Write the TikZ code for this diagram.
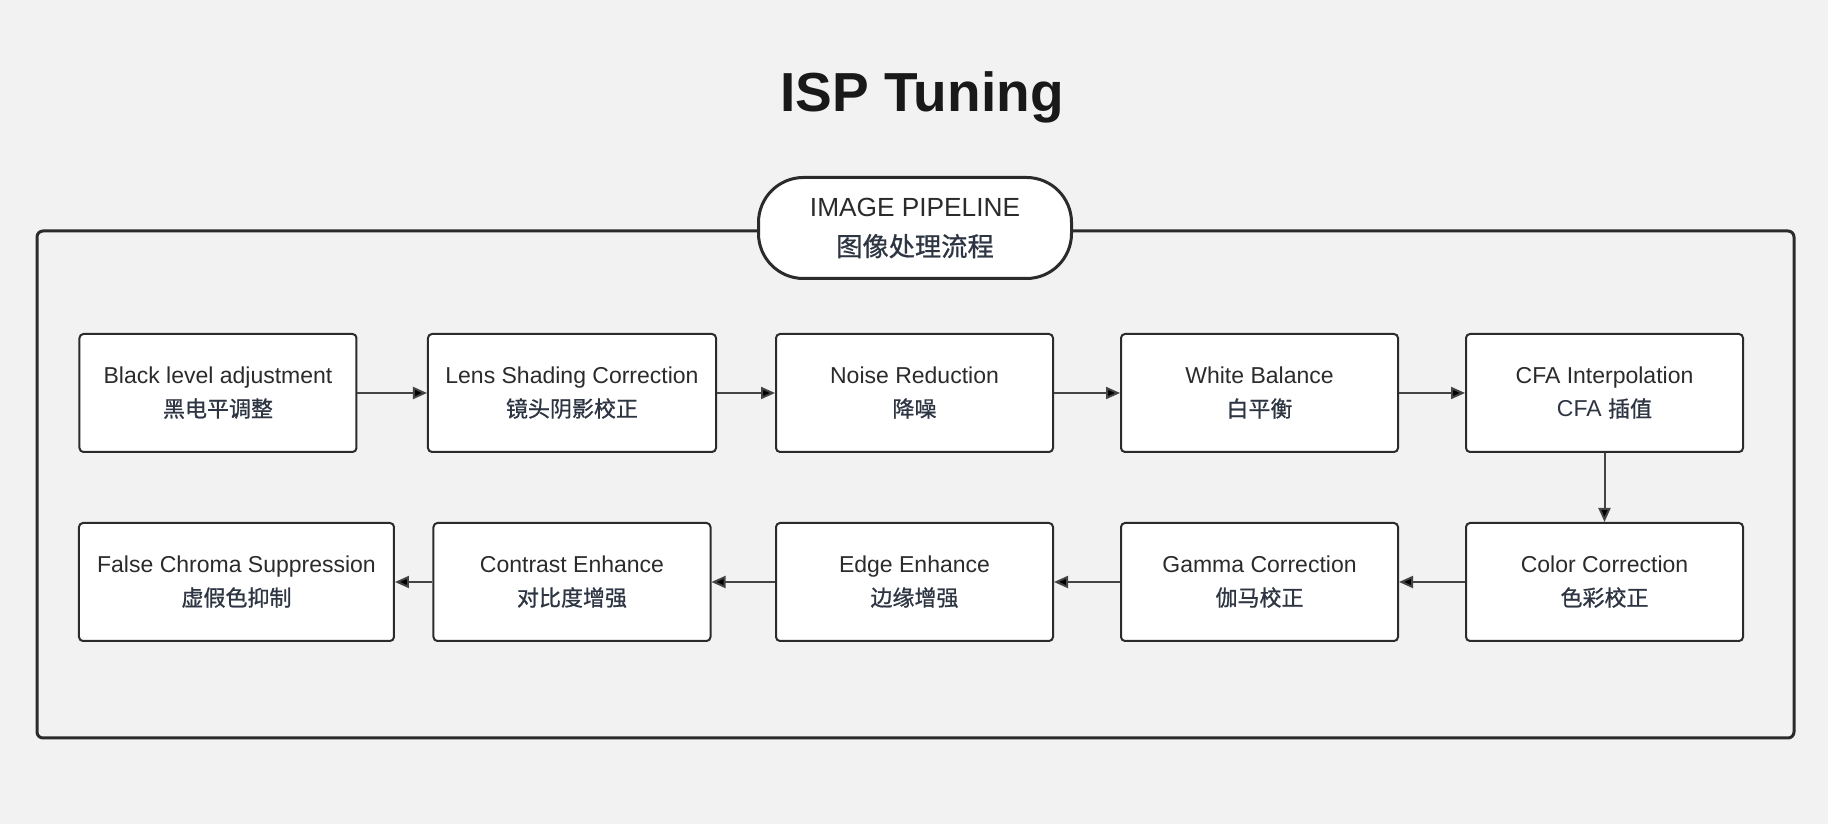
\documentclass[tikz,border=0pt]{standalone}
\usepackage{fontspec}
\usepackage{xcolor}
\usepackage{tikz}
\usetikzlibrary{arrows.meta}

\setmainfont{Liberation Sans}
\newfontfamily\cjk{Noto Sans CJK SC}[FakeBold=0.8]

\definecolor{canvas}{HTML}{F2F2F2}
\definecolor{ink}{HTML}{2B2B2B}
\definecolor{zhink}{HTML}{2D3442}
\definecolor{wire}{HTML}{444444}

\newcommand{\zh}[1]{{\cjk\fontsize{8.8}{13.2}\selectfont\color{zhink}#1}}
\newcommand{\zhbig}[1]{{\cjk\fontsize{10.5}{16}\selectfont\color{zhink}#1}}

\begin{document}
\begin{tikzpicture}[x=0.4pt,y=-0.4pt,node distance=138pt,
  stage/.style={draw=ink,line width=0.8pt,fill=white,rounded corners=1.6pt,
    minimum width=110.8pt,minimum height=47.2pt,align=center,text=ink,
    font=\fontsize{9.2}{13.2}\selectfont}]

    \tikzstyle{flow} = [draw=wire,line width=0.8pt,-{Triangle[length=5.6pt,width=4.8pt]}]
    \tikzstyle{frame} = [draw=ink,line width=1.2pt,rounded corners=2.4pt]
    \tikzstyle{banner} = [draw=ink,line width=1.2pt,fill=white,rounded corners=18pt,
      minimum width=125.2pt,minimum height=40.4pt,align=center,text=ink,
      font=\fontsize{10.5}{16}\selectfont]

  \fill[canvas] (0,0) rectangle (1828,824);

  \node[text=black!90,font=\bfseries\fontsize{22}{27}\selectfont] (title) at (922,97) {ISP Tuning};

  \draw[frame] (37,231) rectangle (1794,738);
  \node[banner] (pipe) at (915,228) {IMAGE PIPELINE\\ \zhbig{图像处理流程}};

  % first row, left to right
  \node[stage] (3) at (914.5,393) {Noise Reduction\\ \zh{降噪}};
  \node[stage,minimum width=115.2pt] (2) [left of=3,xshift=1pt] {Lens Shading Correction\\ \zh{镜头阴影校正}};
  \node[stage] (1) [left of=2,xshift=-3.6pt] {Black level adjustment\\ \zh{黑电平调整}};
  \node[stage] (4) [right of=3] {White Balance\\ \zh{白平衡}};
  \node[stage] (5) [right of=4] {CFA Interpolation\\ {\color{zhink}CFA} \zh{插值}};

  % second row, right to left
  \node[stage] (10) [below of=5,node distance=75.6pt] {Color Correction\\ \zh{色彩校正}};
  \node[stage] (9) [left of=10] {Gamma Correction\\ \zh{伽马校正}};
  \node[stage] (8) [left of=9] {Edge Enhance\\ \zh{边缘增强}};
  \node[stage] (7) [left of=8,xshift=1pt] {Contrast Enhance\\ \zh{对比度增强}};
  \node[stage,minimum width=126pt] (6) [left of=7,xshift=3.8pt] {False Chroma Suppression\\ \zh{虚假色抑制}};

  \path[flow]
    (1) edge (2)
    (2) edge (3)
    (3) edge (4)
    (4) edge (5)
    (5) edge (10)
    (10) edge (9)
    (9) edge (8)
    (8) edge (7)
    (7) edge (6)
    ;

\end{tikzpicture}
\end{document}
